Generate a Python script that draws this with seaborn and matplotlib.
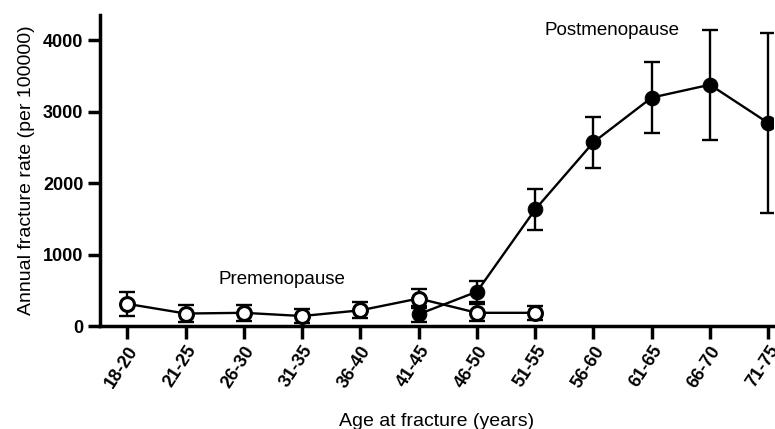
import numpy as np
import pandas as pd
import matplotlib
matplotlib.use("Agg")
import matplotlib.pyplot as plt
import seaborn as sns

# =====================================================
# DATA
# =====================================================
age_groups = ["18-20", "21-25", "26-30", "31-35", "36-40", "41-45",
              "46-50", "51-55", "56-60", "61-65", "66-70", "71-75"]

pre_groups = ["18-20", "21-25", "26-30", "31-35", "36-40", "41-45",
              "46-50", "51-55"]
pre_rate = [310, 175, 185, 140, 220, 385, 185, 185]
pre_err = [165, 120, 110, 100, 110, 130, 120, 100]

post_groups = ["41-45", "46-50", "51-55", "56-60", "61-65", "66-70", "71-75"]
post_rate = [165, 480, 1630, 2570, 3195, 3375, 2840]
post_err = [115, 150, 290, 360, 500, 770, 1260]

# =====================================================
# STYLE
# =====================================================
sns.set_theme(style="ticks")
plt.rcParams["font.family"] = ["Liberation Sans", "DejaVu Sans"]
plt.rcParams["text.color"] = "black"
plt.rcParams["axes.labelcolor"] = "black"
plt.rcParams["xtick.color"] = "black"
plt.rcParams["ytick.color"] = "black"

pos = {g: i for i, g in enumerate(age_groups)}
pre_df = pd.DataFrame({"x": [pos[g] for g in pre_groups], "rate": pre_rate, "err": pre_err})
post_df = pd.DataFrame({"x": [pos[g] for g in post_groups], "rate": post_rate, "err": post_err})

fig = plt.figure(figsize=(7.75, 4.29), dpi=100)
ax = fig.add_axes([0.129, 0.24, 0.869, 0.725])

# error bars
ax.errorbar(pre_df["x"], pre_df["rate"], yerr=pre_df["err"], fmt="none",
            ecolor="black", elinewidth=1.7, capsize=6, capthick=1.7, zorder=2)
ax.errorbar(post_df["x"], post_df["rate"], yerr=post_df["err"], fmt="none",
            ecolor="black", elinewidth=1.7, capsize=6, capthick=1.7, zorder=2)

# lines + markers
sns.lineplot(data=pre_df, x="x", y="rate", ax=ax, color="black", linewidth=1.7,
             marker="o", markersize=10, markerfacecolor="white",
             markeredgecolor="black", markeredgewidth=2.2, zorder=3)
sns.lineplot(data=post_df, x="x", y="rate", ax=ax, color="black", linewidth=1.7,
             marker="o", markersize=10.5, markerfacecolor="black",
             markeredgecolor="black", zorder=4)

ax.text(2.66, 645, "Premenopause", ha="center", va="center", fontsize=13.5)
ax.text(8.32, 4137, "Postmenopause", ha="center", va="center", fontsize=13.5)

ax.set_xlim(-0.47, 11.09)
ax.set_ylim(0, 4350)
ax.set_xticks(range(len(age_groups)))
ax.set_xticklabels(age_groups, rotation=57, ha="right", rotation_mode="anchor",
                   fontweight="bold", fontsize=13)
ax.set_yticks([0, 1000, 2000, 3000, 4000])
ax.set_yticklabels(["0", "1000", "2000", "3000", "4000"], fontweight="bold", fontsize=13)

ax.set_xlabel("Age at fracture (years)", fontsize=14, labelpad=16)
ax.set_ylabel("Annual fracture rate (per 100000)", fontsize=14, labelpad=6)

sns.despine(ax=ax)
for side in ["left", "bottom"]:
    ax.spines[side].set_linewidth(2.5)
    ax.spines[side].set_color("black")
ax.tick_params(axis="both", direction="out", length=9, width=2.5, pad=3)

fig.savefig("out.png", dpi=100)
